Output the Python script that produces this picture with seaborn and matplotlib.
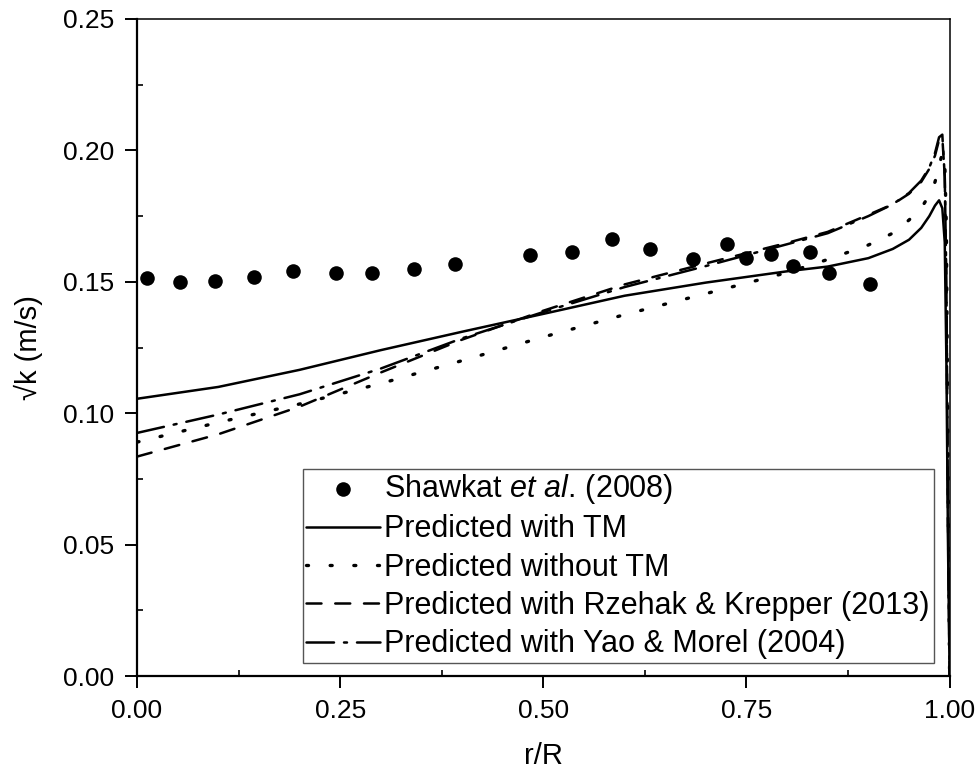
import matplotlib
matplotlib.use("Agg")
import matplotlib.pyplot as plt
import seaborn as sns
import pandas as pd
from matplotlib.ticker import MultipleLocator

# ---- data ----
r_exp = [0.012, 0.053, 0.096, 0.144, 0.192, 0.245, 0.289, 0.341, 0.391, 0.483, 0.535,
         0.585, 0.631, 0.684, 0.726, 0.750, 0.780, 0.807, 0.828, 0.851, 0.902]
k_exp = [0.1515, 0.1500, 0.1504, 0.1519, 0.1542, 0.1534, 0.1534, 0.1549, 0.1568, 0.1602, 0.1614,
         0.1663, 0.1625, 0.1587, 0.1644, 0.1591, 0.1606, 0.1561, 0.1614, 0.1534, 0.1492]

r_model = [0.0, 0.1, 0.2, 0.3, 0.4, 0.5, 0.6, 0.7, 0.8, 0.85, 0.9, 0.93, 0.95, 0.965,
           0.975, 0.982, 0.987, 0.991, 0.994, 0.996, 0.998, 1.0]
k_tm = [0.1055, 0.1100, 0.1165, 0.1240, 0.1310, 0.1378, 0.1447, 0.1497, 0.1540, 0.1558, 0.1590,
        0.1625, 0.1660, 0.1705, 0.1750, 0.1790, 0.1810, 0.1780, 0.1650, 0.1200, 0.0500, 0.0]
k_notm = [0.0890, 0.0965, 0.1035, 0.1113, 0.1200, 0.1290, 0.1375, 0.1455, 0.1535, 0.1585, 0.1640,
          0.1685, 0.1735, 0.1780, 0.1830, 0.1880, 0.1940, 0.1990, 0.1960, 0.1700, 0.0800, 0.0]
k_rk = [0.0835, 0.0920, 0.1025, 0.1155, 0.1280, 0.1390, 0.1490, 0.1570, 0.1648, 0.1690, 0.1755,
        0.1795, 0.1835, 0.1880, 0.1930, 0.1980, 0.2040, 0.2050, 0.1900, 0.1500, 0.0600, 0.0]
k_ym = [0.0925, 0.0995, 0.1072, 0.1170, 0.1285, 0.1385, 0.1480, 0.1560, 0.1643, 0.1685, 0.1750,
        0.1795, 0.1838, 0.1885, 0.1935, 0.1990, 0.2050, 0.2060, 0.1900, 0.1500, 0.0600, 0.0]

labels = ["Shawkat $\\it{et\\ al.}\\,$(2008)",
          "Predicted with TM",
          "Predicted without TM",
          "Predicted with Rzehak & Krepper (2013)",
          "Predicted with Yao & Morel (2004)"]

xticks = [0.00, 0.25, 0.50, 0.75, 1.00]
yticks = [0.00, 0.05, 0.10, 0.15, 0.20, 0.25]

# ---- style ----
sns.set_theme(style="ticks")
plt.rcParams["font.family"] = ["Liberation Sans", "DejaVu Sans"]
plt.rcParams["mathtext.fontset"] = "custom"
plt.rcParams["mathtext.rm"] = "Liberation Sans"
plt.rcParams["mathtext.it"] = "Liberation Sans:italic"
plt.rcParams["text.color"] = "black"
plt.rcParams["axes.labelcolor"] = "black"

fig = plt.figure(figsize=(9.79, 7.75), dpi=100)
ax = fig.add_axes([0.140, 0.1277, 0.830, 0.8478])

df_exp = pd.DataFrame({"r": r_exp, "k": k_exp})
sns.scatterplot(data=df_exp, x="r", y="k", ax=ax, color="black", s=110,
                edgecolor="black", linewidth=0, label=labels[0], zorder=3)

series = [(k_tm, "-", 1.8, labels[1]),
          (k_notm, (0, (0.6, 6.5)), 2.4, labels[2]),
          (k_rk, (0, (6, 5.5)), 1.8, labels[3]),
          (k_ym, (0, (11, 4, 1.2, 4)), 1.8, labels[4])]
for vals, ls, lw, lab in series:
    d = pd.DataFrame({"r": r_model, "k": vals})
    sns.lineplot(data=d, x="r", y="k", ax=ax, color="black", linewidth=lw,
                 linestyle=ls, label=lab, sort=False, estimator=None)
for ln in ax.get_lines():
    ln.set_dash_capstyle("round")

ax.set_xlim(0, 1.0)
ax.set_ylim(0, 0.25)
ax.set_xticks(xticks)
ax.set_yticks(yticks)
ax.set_xticklabels([f"{v:.2f}" for v in xticks])
ax.set_yticklabels([f"{v:.2f}" for v in yticks])
ax.xaxis.set_minor_locator(MultipleLocator(0.125))
ax.yaxis.set_minor_locator(MultipleLocator(0.025))
ax.tick_params(which="major", direction="out", length=8.5, width=1.4,
               labelsize=19, pad=8, colors="black", top=False, right=False)
ax.tick_params(which="minor", direction="in", length=4, width=1.2,
               colors="black", top=False, right=False)

for side in ["left", "bottom"]:
    ax.spines[side].set_linewidth(1.6)
for side in ["top", "right"]:
    ax.spines[side].set_visible(True)
    ax.spines[side].set_linewidth(1.1)
for s in ax.spines.values():
    s.set_color("black")

ax.set_xlabel("r/R", fontsize=21, labelpad=14, color="black")
ax.set_ylabel("\u221ak (m/s)", fontsize=21, labelpad=14, color="black")

leg = ax.legend(loc="lower left", bbox_to_anchor=(0.204, 0.020), borderaxespad=0,
                fontsize=22, frameon=True, fancybox=False, framealpha=1,
                edgecolor="#555555", handlelength=2.4, handletextpad=0.15,
                labelspacing=0.27, borderpad=0.12, scatterpoints=1,
                labelcolor="black")
leg.get_frame().set_linewidth(1.0)

fig.savefig("out.png", dpi=100)
